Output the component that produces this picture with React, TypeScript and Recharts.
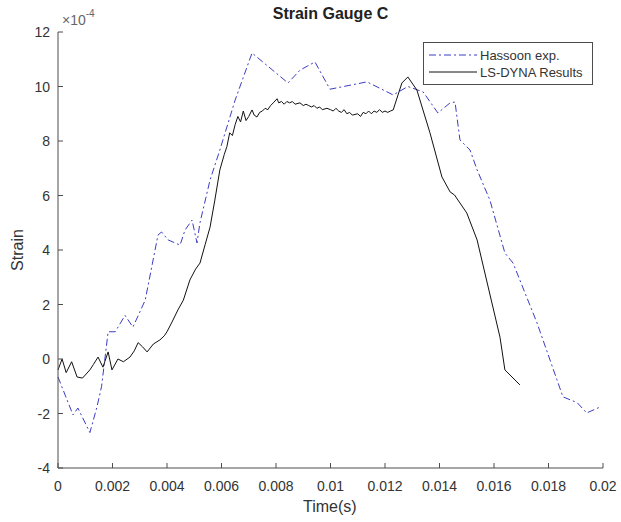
import React from "react";
import { LineChart, Line, XAxis, YAxis } from "recharts";

// Hassoon experimental strain (x1e-4) vs time (s)
const hassoonTime = [
  0, 0.00055, 0.00073, 0.00117, 0.00143, 0.0016, 0.00184, 0.0021, 0.00246,
  0.00275, 0.0032, 0.00367, 0.0038, 0.00404, 0.00448, 0.00466, 0.00492,
  0.0051, 0.00521, 0.00558, 0.00594, 0.0065, 0.00712, 0.00844, 0.00888,
  0.00943, 0.00998, 0.01134, 0.0123, 0.01284, 0.0134, 0.01394, 0.01439,
  0.01457, 0.01475, 0.01512, 0.01538, 0.01574, 0.01585, 0.0164, 0.0167,
  0.01758, 0.01853, 0.01905, 0.0194, 0.0199,
];
const hassoonStrain = [
  -0.66, -2.05, -1.8, -2.7, -1.76, -1.0, 1.0, 1.0, 1.6, 1.17, 2.16, 4.55,
  4.66, 4.37, 4.18, 4.73, 5.1, 4.26, 5.0, 6.57, 7.67, 9.5, 11.23, 10.13, 10.6,
  10.9, 9.9, 10.17, 9.69, 10.0, 9.8, 9.03, 9.4, 9.43, 8.04, 7.67, 6.94, 6.09,
  5.83, 3.89, 3.52, 1.32, -1.39, -1.6, -1.98, -1.76,
];

// LS-DYNA simulated strain (x1e-4) vs time (s)
const dynaTime = [
  0, 0.00015, 0.0003, 0.0005, 0.0007, 0.0009, 0.00117, 0.0013, 0.00147,
  0.00165, 0.00184, 0.00198, 0.0022, 0.0024, 0.00264, 0.0028, 0.00294,
  0.0031, 0.00327, 0.0035, 0.00374, 0.0039, 0.004, 0.00422, 0.0044, 0.0046,
  0.00484, 0.00505, 0.00521, 0.0054, 0.00558, 0.00575, 0.00594, 0.0061,
  0.0062, 0.0063, 0.0064, 0.0065, 0.0066, 0.0067, 0.0068, 0.0069, 0.007,
  0.00712, 0.0072, 0.0073, 0.0074, 0.0075, 0.0076, 0.0077, 0.0078, 0.0079,
  0.00804, 0.0081, 0.0082, 0.0083, 0.0084, 0.0085, 0.0086, 0.0087, 0.00888,
  0.009, 0.0091, 0.0092, 0.0093, 0.0094, 0.0095, 0.0096, 0.0097, 0.00987,
  0.01, 0.0101, 0.0102, 0.0103, 0.0104, 0.0105, 0.0106, 0.0107, 0.0108,
  0.011, 0.0111, 0.0112, 0.0113, 0.0114, 0.0115, 0.0116, 0.0117, 0.0118,
  0.0119, 0.012, 0.0121, 0.0122, 0.0123, 0.01262, 0.01284, 0.01317, 0.01365,
  0.01409, 0.01439, 0.01455, 0.015, 0.01538, 0.01622, 0.0164, 0.01695,
];
const dynaStrain = [
  -0.4, 0.0, -0.5, -0.1, -0.66, -0.7, -0.4, -0.2, 0.07, -0.3, 0.26, -0.4, 0.0,
  -0.1, 0.07, 0.3, 0.6, 0.45, 0.26, 0.55, 0.7, 0.85, 1.0, 1.43, 1.8, 2.16,
  2.9, 3.3, 3.52, 4.2, 4.84, 5.8, 6.94, 7.5, 7.8, 8.3, 8.2, 8.6, 8.9, 8.7,
  9.1, 8.75, 8.9, 9.14, 8.95, 8.88, 9.05, 9.1, 9.2, 9.15, 9.3, 9.4, 9.55, 9.4,
  9.45, 9.35, 9.45, 9.4, 9.45, 9.35, 9.4, 9.3, 9.35, 9.3, 9.25, 9.3, 9.2,
  9.25, 9.15, 9.2, 9.15, 9.1, 9.2, 9.1, 9.05, 9.15, 9.0, 9.05, 8.95, 9.0,
  8.9, 9.05, 9.0, 9.1, 9.0, 9.1, 9.05, 9.15, 9.05, 9.1, 9.05, 9.1, 9.14,
  10.13, 10.35, 9.87, 8.3, 6.68, 6.13, 6.02, 5.36, 4.37, 0.8, -0.4, -0.95,
];

const xTicks = [0, 0.002, 0.004, 0.006, 0.008, 0.01, 0.012, 0.014, 0.016, 0.018, 0.02];
const yTicks = [-4, -2, 0, 2, 4, 6, 8, 10, 12];

const hassoon = hassoonTime.map((t, i) => ({ time: t, strain: hassoonStrain[i] }));
const dyna = dynaTime.map((t, i) => ({ time: t, strain: dynaStrain[i] }));

const FONT = '"Liberation Sans", Arial, sans-serif';
const AXIS = "#4d4d4d";
const TEXT = "#333";
const BLUE = "#3c3cc4";

// MATLAB-style ticks: short mark pointing into the plot, label outside
const XTick = (props: any) => {
  const { x, y, payload } = props;
  return (
    <g>
      <line x1={x} y1={y} x2={x} y2={y - 5} stroke={AXIS} strokeWidth={1} />
      <text x={x} y={y + 23} textAnchor="middle" fontSize={14} fill={TEXT} fontFamily={FONT}>
        {String(payload.value)}
      </text>
    </g>
  );
};

const YTick = (props: any) => {
  const { x, y, payload } = props;
  return (
    <g>
      <line x1={x} y1={y} x2={x + 5} y2={y} stroke={AXIS} strokeWidth={1} />
      <text x={x - 8} y={y + 5} textAnchor="end" fontSize={14} fill={TEXT} fontFamily={FONT}>
        {String(payload.value)}
      </text>
    </g>
  );
};

export default function App() {
  return (
    <div style={{ position: "absolute", left: 0, top: 0, width: 621, height: 522, background: "#fff", fontFamily: FONT }}>
      <LineChart
        width={621}
        height={522}
        margin={{ top: 32, right: 18, bottom: 0, left: 0 }}
      >
        <XAxis
          dataKey="time"
          type="number"
          domain={[0, 0.02]}
          ticks={xTicks}
          height={54}
          tickSize={0}
          tickMargin={0}
          tickLine={false}
          axisLine={{ stroke: AXIS }}
          tick={<XTick />}
          interval={0}
        />
        <YAxis
          type="number"
          domain={[-4, 12]}
          ticks={yTicks}
          width={58}
          tickSize={0}
          tickMargin={0}
          tickLine={false}
          axisLine={{ stroke: AXIS }}
          tick={<YTick />}
          interval={0}
        />
        <Line
          data={hassoon}
          dataKey="strain"
          type="linear"
          stroke={BLUE}
          strokeWidth={1}
          strokeDasharray="7 3 2 3"
          dot={false}
          isAnimationActive={false}
        />
        <Line
          data={dyna}
          dataKey="strain"
          type="linear"
          stroke="#111"
          strokeWidth={1}
          dot={false}
          isAnimationActive={false}
        />
      </LineChart>

      <div style={{ position: "absolute", left: 0, width: 621, top: 5, textAlign: "center", paddingLeft: 40, boxSizing: "border-box", fontWeight: "bold", fontSize: 16, color: "#222" }}>
        Strain Gauge C
      </div>
      <div style={{ position: "absolute", left: 62, top: 12, fontSize: 14, color: "#666" }}>
        ×10<sup style={{ fontSize: 10, verticalAlign: "top", position: "relative", top: -4 }}>-4</sup>
      </div>
      <div style={{ position: "absolute", left: 303, top: 498, fontSize: 16, color: TEXT }}>Time(s)</div>
      <div style={{ position: "absolute", left: 18, top: 250, fontSize: 16, color: TEXT, transform: "translate(-50%, -50%) rotate(-90deg)" }}>
        Strain
      </div>

      <div style={{ position: "absolute", left: 423, top: 42, width: 170, height: 43, border: `1px solid ${AXIS}`, background: "#fff", boxSizing: "border-box", fontSize: 13, color: TEXT }}>
        <div style={{ position: "absolute", left: 5, top: 3, display: "flex", alignItems: "center", height: 18 }}>
          <svg width={48} height={4}>
            <line x1={0} y1={2} x2={48} y2={2} stroke={BLUE} strokeWidth={1} strokeDasharray="7 3 2 3" />
          </svg>
          <span style={{ marginLeft: 3 }}>Hassoon exp.</span>
        </div>
        <div style={{ position: "absolute", left: 5, top: 20, display: "flex", alignItems: "center", height: 18 }}>
          <svg width={48} height={4}>
            <line x1={0} y1={2} x2={48} y2={2} stroke="#111" strokeWidth={1} />
          </svg>
          <span style={{ marginLeft: 3 }}>LS-DYNA Results</span>
        </div>
      </div>
    </div>
  );
}
